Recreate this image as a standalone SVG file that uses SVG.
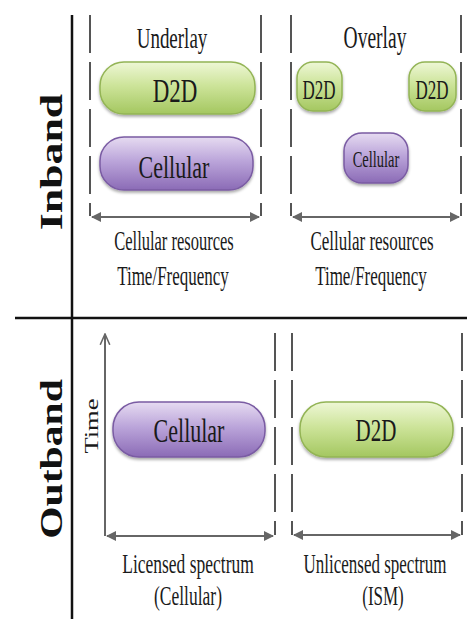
<svg xmlns="http://www.w3.org/2000/svg" width="467" height="619" viewBox="0 0 467 619">
<defs>
<linearGradient id="gGreen" x1="0" y1="0" x2="0" y2="1">
<stop offset="0" stop-color="#eef7d6"/>
<stop offset="0.45" stop-color="#cde49a"/>
<stop offset="1" stop-color="#a4c760"/>
</linearGradient>
<linearGradient id="gPurple" x1="0" y1="0" x2="0" y2="1">
<stop offset="0" stop-color="#e6dbf1"/>
<stop offset="0.45" stop-color="#bba5da"/>
<stop offset="1" stop-color="#8b6bb6"/>
</linearGradient>
<filter id="shadow" x="-10%" y="-20%" width="120%" height="150%">
<feGaussianBlur in="SourceAlpha" stdDeviation="1.5"/>
<feOffset dx="0" dy="2" result="b"/>
<feComponentTransfer><feFuncA type="linear" slope="0.35"/></feComponentTransfer>
<feMerge><feMergeNode/><feMergeNode in="SourceGraphic"/></feMerge>
</filter>
<marker id="ah" viewBox="0 0 10 10" refX="9" refY="5" markerWidth="5" markerHeight="5" orient="auto-start-reverse">
<path d="M0,0 L10,5 L0,10 Z" fill="#666"/>
</marker>
<marker id="open" viewBox="0 0 10 10" refX="9" refY="5" markerWidth="6" markerHeight="6" orient="auto">
<path d="M0,1 L9,5 L0,9" fill="none" stroke="#666" stroke-width="1.3"/>
</marker>
</defs>
<style>
text { font-family: "Liberation Serif", "Times New Roman", serif; fill: #1a1a1a; text-anchor: middle; }
.green { fill: url(#gGreen); stroke: #93b455; stroke-width: 1.5; filter: url(#shadow); }
.purple { fill: url(#gPurple); stroke: #7a5ba3; stroke-width: 1.5; filter: url(#shadow); }
.axis { stroke: #111; stroke-width: 2.5; fill: none; }
.dash { stroke: #555; stroke-width: 2; stroke-dasharray: 38 9; fill: none; }
.solidv { stroke: #666; stroke-width: 2; fill: none; }
.arrow { stroke: #666; stroke-width: 2; fill: none; marker-start: url(#ah); marker-end: url(#ah); }
.side { font-weight: bold; font-size: 32px; fill: #111; }
</style>
<rect width="467" height="619" fill="#ffffff"/>

<g id="connectors">
<line class="axis" x1="72" y1="15" x2="72" y2="619"/>
<line class="axis" x1="15" y1="318" x2="467" y2="318" stroke-width="3"/>
<line class="dash" x1="90" y1="15" x2="90" y2="216"/>
<line class="dash" x1="261" y1="15" x2="261" y2="216"/>
<line class="arrow" x1="92" y1="217" x2="259" y2="217"/>
<line class="dash" x1="291" y1="15" x2="291" y2="216"/>
<line class="dash" x1="461" y1="15" x2="461" y2="216"/>
<line class="arrow" x1="293" y1="217" x2="459" y2="217"/>
<line class="solidv" x1="105" y1="536" x2="105" y2="334" marker-end="url(#open)"/>
<line class="arrow" x1="107" y1="536" x2="273" y2="536"/>
<line class="dash" x1="275" y1="333" x2="275" y2="535"/>
<line class="dash" x1="292" y1="333" x2="292" y2="535"/>
<line class="dash" x1="462" y1="333" x2="462" y2="535"/>
<line class="arrow" x1="294" y1="535" x2="460" y2="535"/>
</g>

<g id="label-inband"><text class="side" transform="translate(62,162) rotate(-90) scale(1.37,1)">Inband</text></g>
<g id="label-outband"><text class="side" transform="translate(62,459) rotate(-90) scale(1.3,1)">Outband</text></g>
<g id="label-time"><text transform="translate(98,426) rotate(-90) scale(1.4,1)" font-size="19">Time</text></g>

<g id="underlay-title"><text transform="translate(172,48) scale(1,1.6)" font-size="19">Underlay</text></g>
<g id="overlay-title"><text transform="translate(375,48) scale(1,1.6)" font-size="19.5">Overlay</text></g>

<g id="underlay-d2d">
<rect class="green" x="100" y="62" width="155" height="52" rx="24"/>
<text transform="translate(175,102) scale(1,1.45)" font-size="23">D2D</text>
</g>
<g id="underlay-cellular">
<rect class="purple" x="100" y="137" width="153" height="53" rx="24"/>
<text transform="translate(174,178) scale(1,1.45)" font-size="22">Cellular</text>
</g>

<g id="overlay-d2d-left">
<rect class="green" x="297" y="62" width="45" height="49" rx="16"/>
<text transform="translate(319,99) scale(1,1.55)" font-size="17">D2D</text>
</g>
<g id="overlay-d2d-right">
<rect class="green" x="409" y="62" width="47" height="49" rx="16"/>
<text transform="translate(432,99) scale(1,1.55)" font-size="17">D2D</text>
</g>
<g id="overlay-cellular">
<rect class="purple" x="344" y="133" width="64" height="50" rx="18"/>
<text transform="translate(376,167) scale(1,1.6)" font-size="14.5">Cellular</text>
</g>

<g id="underlay-axis-label">
<text transform="translate(174,250) scale(1,1.6)" font-size="16.5">Cellular resources</text>
<text transform="translate(173,285) scale(1,1.6)" font-size="17">Time/Frequency</text>
</g>
<g id="overlay-axis-label">
<text transform="translate(372,250) scale(1,1.6)" font-size="17">Cellular resources</text>
<text transform="translate(371,285) scale(1,1.6)" font-size="17">Time/Frequency</text>
</g>

<g id="outband-cellular">
<rect class="purple" x="113" y="402" width="152" height="55" rx="26"/>
<text transform="translate(189,442) scale(1,1.5)" font-size="22">Cellular</text>
</g>
<g id="outband-d2d">
<rect class="green" x="300" y="402" width="153" height="55" rx="26"/>
<text transform="translate(376,441) scale(1,1.5)" font-size="21">D2D</text>
</g>

<g id="licensed-label">
<text transform="translate(188,573) scale(1,1.55)" font-size="17.5">Licensed spectrum</text>
<text transform="translate(188,605) scale(1,1.55)" font-size="17.5">(Cellular)</text>
</g>
<g id="unlicensed-label">
<text transform="translate(375,573) scale(1,1.55)" font-size="17">Unlicensed spectrum</text>
<text transform="translate(383,605) scale(1,1.55)" font-size="17">(ISM)</text>
</g>
</svg>
